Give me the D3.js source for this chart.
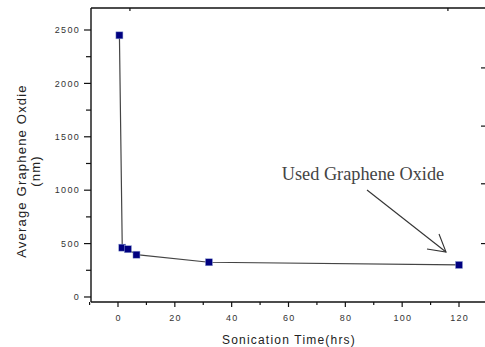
<!DOCTYPE html>
<html>
<head>
<meta charset="utf-8">
<script src="https://cdn.jsdelivr.net/npm/d3@7"></script>
<style>
  html, body { margin: 0; padding: 0; background: #fff; }
  svg { display: block; }
  .tick-label { font-family: "Liberation Sans", Arial, sans-serif; font-size: 9px; fill: #333; letter-spacing: 1.3px; }
  .axis-title { font-family: "Liberation Sans", Arial, sans-serif; fill: #222; letter-spacing: 1.2px; }
</style>
</head>
<body>
<div id="chart"></div>
<script>
// sonication time (hrs) and average graphene oxide size (nm)
const times = [0.5, 1.5, 3.5, 6.5, 32, 120];
const sizes = [2450, 462, 447, 396, 325, 300];

const xTicks = [0, 20, 40, 60, 80, 100, 120];
const xMinorTicks = [-10, 10, 30, 50, 70, 90, 110];
const yTicks = [0, 500, 1000, 1500, 2000, 2500];
const yMinorTicks = [250, 750, 1250, 1750, 2250];
const topTicks = [4.2, 116.1];
const rightTicks = [500, 1060, 1600, 2145];

const xLabel = 'Sonication Time(hrs)';
const yLabel = ['Average Graphene Oxdie', '(nm)'];
const note = 'Used Graphene Oxide';

const width = 485;
const height = 347;
const margin = { top: 8, right: -1, bottom: 45, left: 91 };

const svg = d3.select('#chart').append('svg')
  .attr('width', width)
  .attr('height', height);

const x = d3.scaleLinear()
  .domain([-9.5, 129.5])
  .range([margin.left, width - margin.right]);

const y = d3.scaleLinear()
  .domain([-47, 2706])
  .range([height - margin.bottom, margin.top]);

const plotBottom = height - margin.bottom;
const plotRight = width - margin.right;

// frame
const frame = svg.append('g').attr('stroke', '#111').attr('stroke-width', 1.4);
frame.append('line')
  .attr('x1', margin.left).attr('x2', margin.left)
  .attr('y1', margin.top).attr('y2', plotBottom);
frame.append('line')
  .attr('x1', margin.left).attr('x2', plotRight)
  .attr('y1', plotBottom).attr('y2', plotBottom);
frame.append('line')
  .attr('x1', margin.left).attr('x2', plotRight)
  .attr('y1', margin.top).attr('y2', margin.top);

// bottom axis
const xAxis = svg.append('g');
xAxis.selectAll('.major').data(xTicks).join('line')
  .attr('x1', d => x(d)).attr('x2', d => x(d))
  .attr('y1', plotBottom).attr('y2', plotBottom + 5)
  .attr('stroke', '#111').attr('stroke-width', 1.2);
xAxis.selectAll('.minor').data(xMinorTicks).join('line')
  .attr('x1', d => x(d)).attr('x2', d => x(d))
  .attr('y1', plotBottom).attr('y2', plotBottom + 3)
  .attr('stroke', '#111').attr('stroke-width', 1.2);
xAxis.selectAll('text').data(xTicks).join('text')
  .attr('class', 'tick-label')
  .attr('x', d => x(d) + 0.7)
  .attr('y', plotBottom + 19)
  .attr('text-anchor', 'middle')
  .text(d => d);

// left axis
const yAxis = svg.append('g');
yAxis.selectAll('.major').data(yTicks).join('line')
  .attr('x1', margin.left - 7).attr('x2', margin.left)
  .attr('y1', d => y(d)).attr('y2', d => y(d))
  .attr('stroke', '#111').attr('stroke-width', 1.2);
yAxis.selectAll('.minor').data(yMinorTicks).join('line')
  .attr('x1', margin.left - 5).attr('x2', margin.left)
  .attr('y1', d => y(d)).attr('y2', d => y(d))
  .attr('stroke', '#111').attr('stroke-width', 1.2);
yAxis.selectAll('text').data(yTicks).join('text')
  .attr('class', 'tick-label')
  .attr('x', margin.left - 11)
  .attr('y', d => y(d) + 3.2)
  .attr('text-anchor', 'end')
  .text(d => d);

// top and right ticks (inward)
svg.append('g').selectAll('line').data(topTicks).join('line')
  .attr('x1', d => x(d)).attr('x2', d => x(d))
  .attr('y1', margin.top).attr('y2', margin.top + 3)
  .attr('stroke', '#111').attr('stroke-width', 1.2);
svg.append('g').selectAll('line').data(rightTicks).join('line')
  .attr('x1', plotRight - 5).attr('x2', plotRight)
  .attr('y1', d => y(d)).attr('y2', d => y(d))
  .attr('stroke', '#111').attr('stroke-width', 1.2);

// axis titles
svg.append('text')
  .attr('class', 'axis-title')
  .attr('x', 289)
  .attr('y', 344)
  .attr('text-anchor', 'middle')
  .style('font-size', '12px')
  .text(xLabel);

svg.append('g')
  .attr('transform', 'translate(0,171) rotate(-90)')
  .selectAll('text').data(yLabel).join('text')
  .attr('class', 'axis-title')
  .attr('x', 0)
  .attr('y', (d, i) => 26 + i * 14)
  .attr('text-anchor', 'middle')
  .style('font-size', '13px')
  .text(d => d);

// series
const points = times.map((t, i) => [t, sizes[i]]);
svg.append('path')
  .datum(points)
  .attr('fill', 'none')
  .attr('stroke', '#444')
  .attr('stroke-width', 1.2)
  .attr('d', d3.line().x(d => x(d[0])).y(d => y(d[1])));

svg.append('g').selectAll('rect').data(points).join('rect')
  .attr('x', d => x(d[0]) - 3.5)
  .attr('y', d => y(d[1]) - 3.5)
  .attr('width', 7)
  .attr('height', 7)
  .attr('fill', '#000080')
  .attr('stroke', '#8fa0d0')
  .attr('stroke-width', 0.5);

// annotation
const last = points[points.length - 1];
const tip = [x(last[0]) - 13, y(last[1]) - 13];
const tail = [x(last[0]) - 92, y(last[1]) - 75];
const ann = svg.append('g').attr('stroke', '#333').attr('stroke-width', 1.1).attr('fill', 'none');
ann.append('line')
  .attr('x1', tail[0]).attr('y1', tail[1])
  .attr('x2', tip[0]).attr('y2', tip[1]);
ann.append('polyline')
  .attr('points', [[tip[0] - 7, tip[1] - 18], tip, [tip[0] - 19, tip[1] - 3]].map(p => p.join(',')).join(' '));

svg.append('text')
  .attr('x', 363)
  .attr('y', 180)
  .attr('text-anchor', 'middle')
  .style('font-family', '"Liberation Serif", "Times New Roman", serif')
  .style('font-size', '18.3px')
  .style('fill', '#444')
  .text(note);
</script>
</body>
</html>
